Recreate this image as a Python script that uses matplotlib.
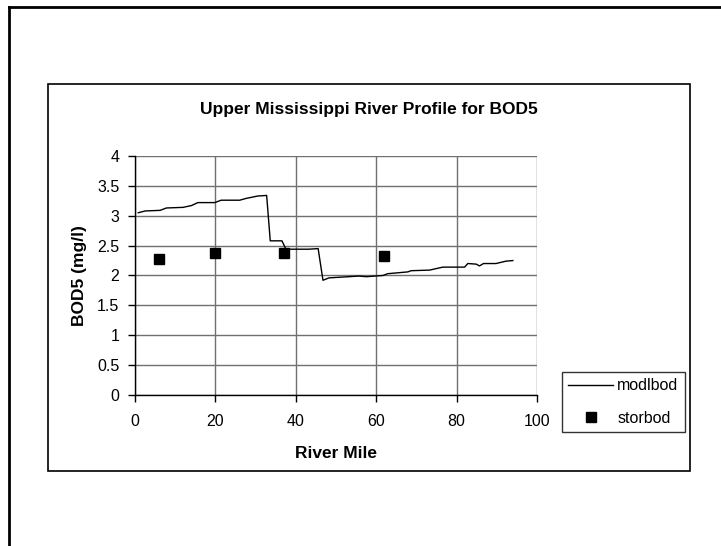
import matplotlib
matplotlib.use('AGG')
import matplotlib.pyplot as plt
from matplotlib.patches import Rectangle
from matplotlib.lines import Line2D

plt.rcParams['font.family'] = ['Liberation Sans', 'DejaVu Sans']

# modelled BOD5 profile (river mile, mg/l)
mod_mile = [0.9, 2.6, 6.3, 7.9, 12.0, 14.1, 15.7, 19.9, 21.5, 26.1, 27.7, 30.6,
            32.8, 33.7, 36.6, 37.6, 43.3, 45.6, 46.8, 48.3, 55.7, 57.6, 61.7,
            62.9, 67.9, 68.7, 73.3, 76.6, 82.0, 82.8, 84.9, 85.7, 86.7, 89.8,
            92.3, 94.0]
mod_bod = [3.05, 3.08, 3.09, 3.13, 3.14, 3.17, 3.22, 3.22, 3.26, 3.26, 3.29, 3.33,
           3.34, 2.58, 2.58, 2.44, 2.44, 2.45, 1.92, 1.96, 1.99, 1.98, 2.00,
           2.03, 2.06, 2.08, 2.09, 2.14, 2.14, 2.20, 2.19, 2.16, 2.20, 2.20,
           2.24, 2.25]

# observed BOD5
obs_mile = [6, 20, 37, 62]
obs_bod = [2.28, 2.38, 2.38, 2.33]

fig = plt.figure(figsize=(7.21, 5.46), dpi=100)

# page border (left and top only)
fig.add_artist(Line2D([0.0125, 0.0125], [0.0, 0.988], color='black', lw=2))
fig.add_artist(Line2D([0.0125, 1.0], [0.988, 0.988], color='black', lw=2))
# chart area box
fig.add_artist(Rectangle((0.0666, 0.1374), 0.8904, 0.7086, fill=False,
                         edgecolor='black', lw=1.2))

ax = fig.add_axes([0.1868, 0.2766, 0.558, 0.4377])
ax.plot(mod_mile, mod_bod, color='black', lw=1, label='modlbod')
ax.plot(obs_mile, obs_bod, 's', color='black', markersize=7.5, linestyle='none',
        label='storbod')

ax.set_xlim(0, 100)
ax.set_ylim(0, 4)
ax.set_xticks(range(0, 101, 20))
ax.set_yticks([0, 0.5, 1, 1.5, 2, 2.5, 3, 3.5, 4])
ax.set_yticklabels(['0', '0.5', '1', '1.5', '2', '2.5', '3', '3.5', '4'])
ax.grid(True, color='#707070', lw=1)
ax.set_axisbelow(True)
for s in ['top', 'right']:
    ax.spines[s].set_visible(False)
for s in ['left', 'bottom']:
    ax.spines[s].set_linewidth(1)
ax.tick_params(direction='out', length=5, width=1, labelsize=11.5)
ax.tick_params(axis='x', pad=9)
ax.tick_params(axis='y', pad=6)

fig.text(0.512, 0.791, 'Upper Mississippi River Profile for BOD5', fontsize=12.5,
         fontweight='bold', ha='center', va='baseline')
ax.set_xlabel('River Mile', fontsize=12.5, fontweight='bold', labelpad=12)
ax.set_ylabel('BOD5 (mg/l)', fontsize=12.5, fontweight='bold', labelpad=7)

fig.legend(loc='upper left', bbox_to_anchor=(0.7795, 0.3187),
           fontsize=11.5, frameon=True, fancybox=False,
           edgecolor='black', handlelength=2.8, borderaxespad=0,
           borderpad=0.4, labelspacing=1.1, handletextpad=0.25)

fig.savefig('out.png', dpi=100)
